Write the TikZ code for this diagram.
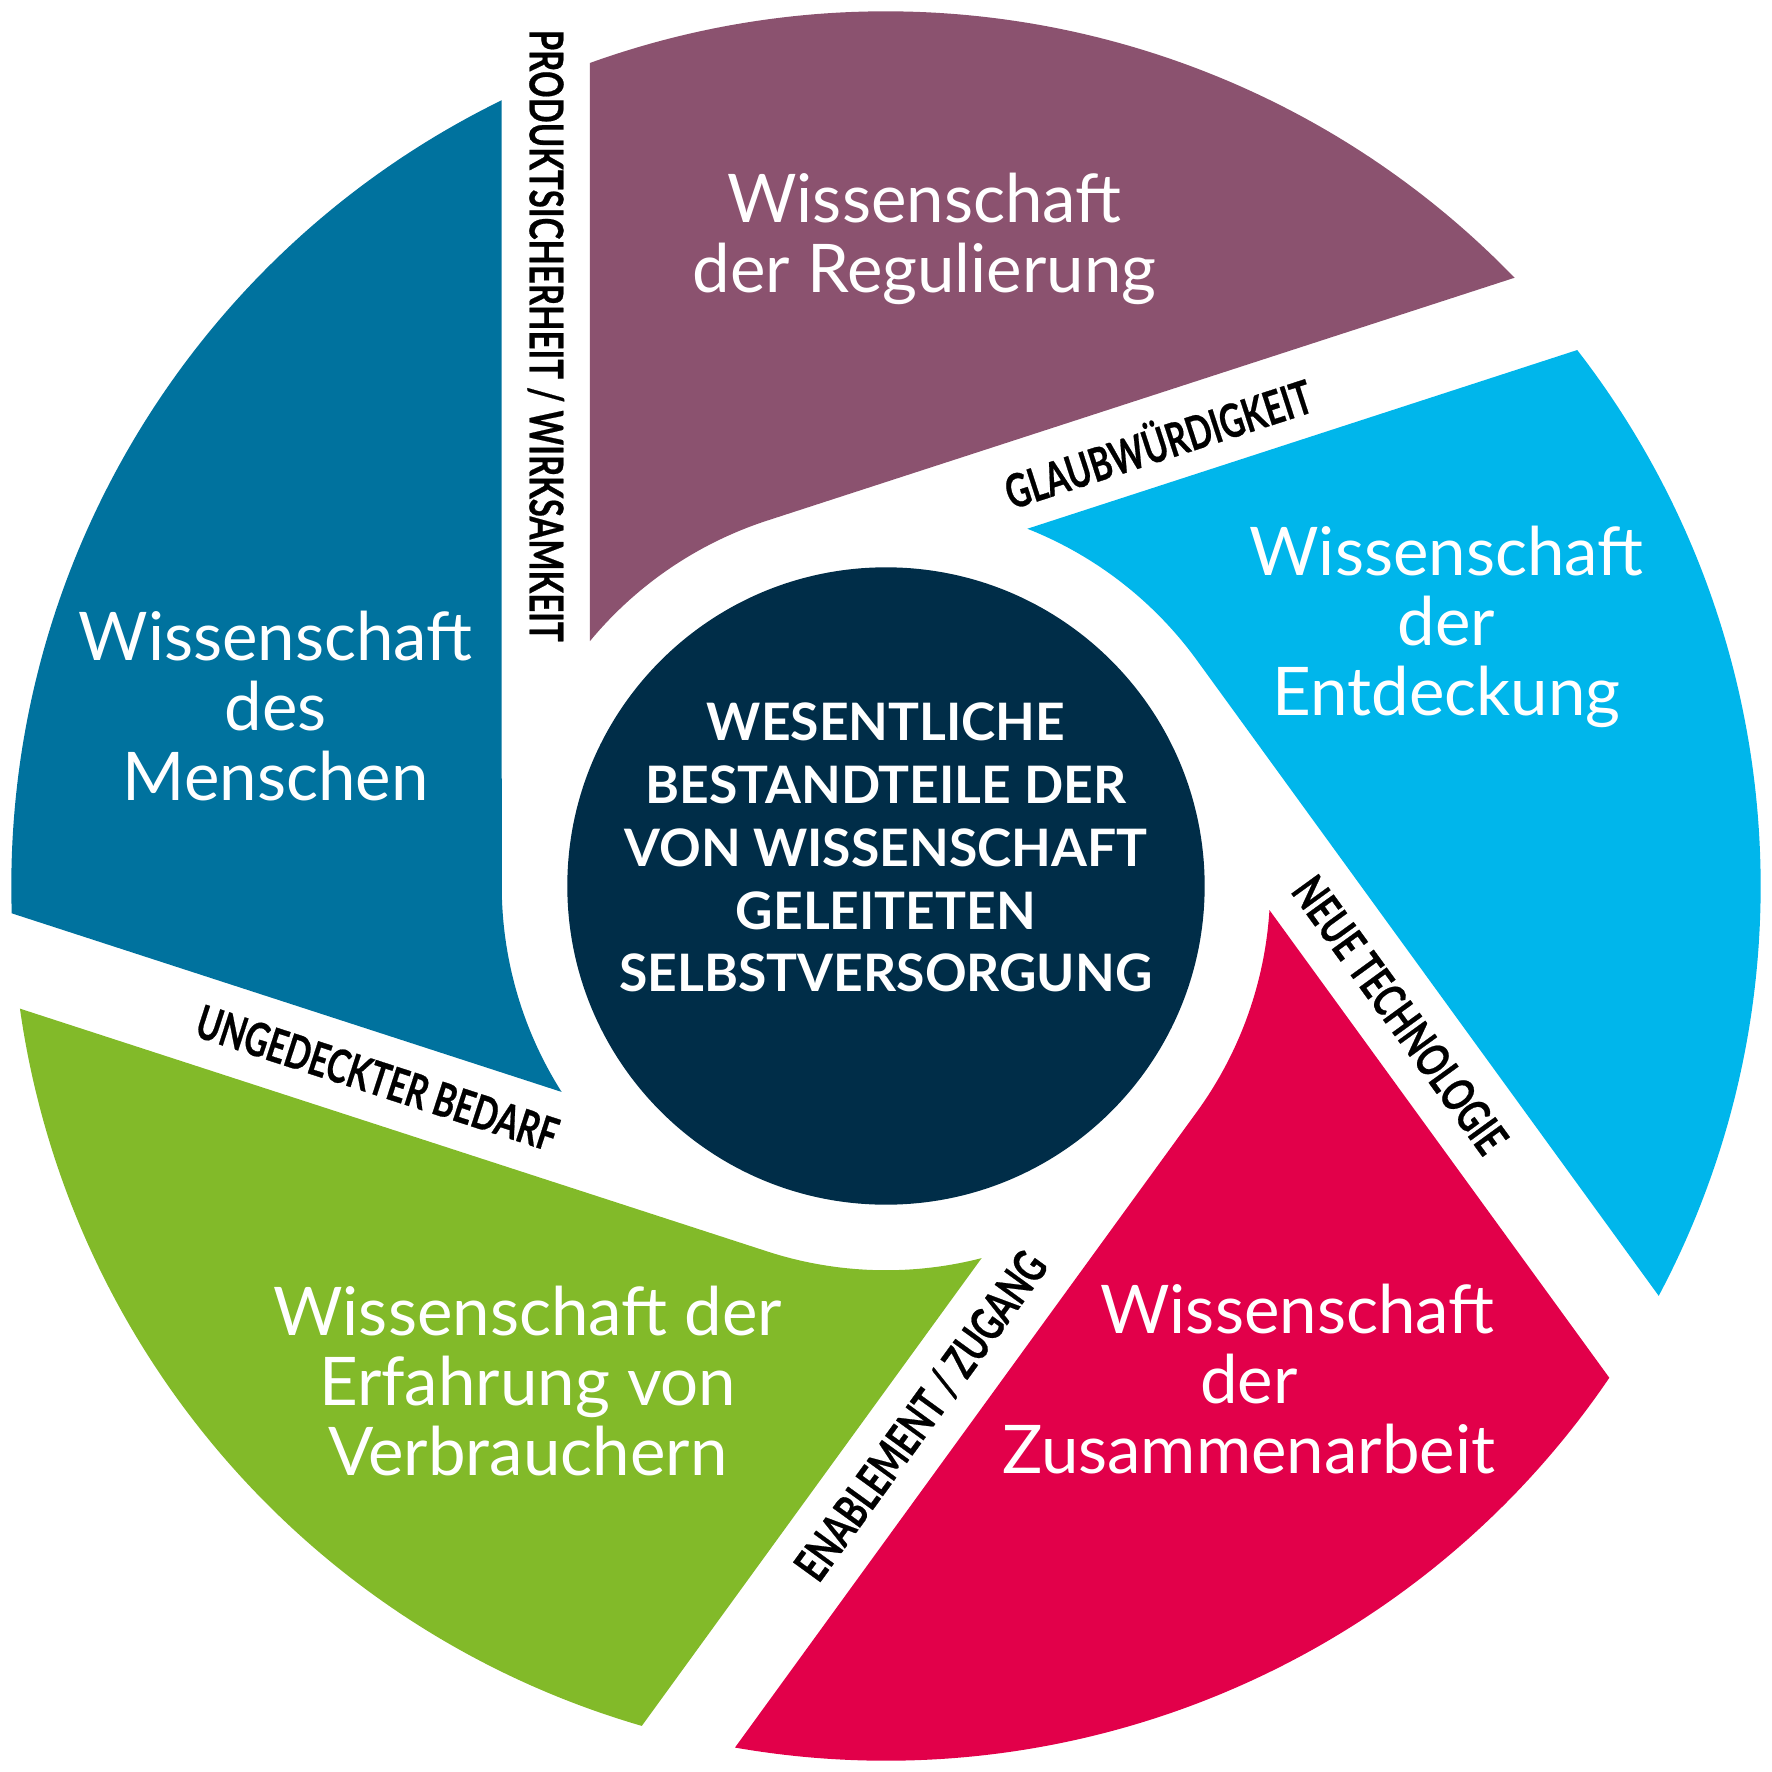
\documentclass[tikz,border=0pt]{standalone}
\usepackage{fontspec}
\setmainfont{Lato}
\newfontfamily\lblfont[FakeBold=0.6]{Lato}
\usepackage{tikz}
\usetikzlibrary{positioning}
\definecolor{regul}{RGB}{139,82,111}
\definecolor{entd}{RGB}{0,182,235}
\definecolor{zusam}{RGB}{226,0,74}
\definecolor{erfahr}{RGB}{130,186,41}
\definecolor{mensch}{RGB}{0,114,158}
\definecolor{kern}{RGB}{0,45,72}
\newcommand{\schmal}[1]{\scalebox{0.71}[1]{#1}}

\begin{document}
\begin{tikzpicture}[x=0.1mm, y=0.1mm,
  ttl/.style={text=white, align=center, inner sep=0pt, font=\fontsize{16.9}{17.6}\selectfont},
  lbl/.style={inner sep=0pt, font=\lblfont\bfseries\fontsize{11.7}{12}\selectfont}]
  \useasboundingbox (-784,-784) rectangle (784,784);
  % five blades, each turned by 72 degrees
  \foreach \col [count=\k from 0] in {regul,entd,zusam,erfahr,mensch}
    \fill[\col, rotate=-72*\k] (109.79:774) -- (140.41:340) arc[start angle=140.41, end angle=108, radius=340]
      -- (44.06:774) arc[start angle=44.06, end angle=109.79, radius=774] -- cycle;
  \node[circle, fill=kern, minimum size=5.64cm, inner sep=0pt] (kern) at (0,0) {};
  \node[text=white, align=center, inner sep=0pt, font=\bfseries\fontsize{13}{15.8}\selectfont] (kerntxt) at (0,34)
    {WESENTLICHE\\BESTANDTEILE DER\\VON WISSENSCHAFT\\GELEITETEN\\SELBSTVERSORGUNG};
  \node[ttl] (regultxt) at (34,573) {Wissenschaft\\der Regulierung};
  \node[ttl] (entdtxt) at (496,229) {Wissenschaft\\der\\Entdeckung};
  \node[ttl] (zusamtxt) at (321,-436) {\hspace*{1.45em}Wissenschaft\\der\\Zusammenarbeit};
  \node[ttl] (erfahrtxt) at (-317,-438) {Wissenschaft der\\Erfahrung von\\Verbrauchern};
  \node[ttl] (menschtxt) at (-540,159) {Wissenschaft\\des\\Menschen};
  % labels in the gaps
  \node[lbl, rotate=-90] (produkt) at (-301,487) {\schmal{PRODUKTSICHERHEIT / WIRKSAMKEIT}};
  \node[lbl, rotate=18] (glaub) at (240,394) {\schmal{GLAUBWÜRDIGKEIT}};
  \node[lbl, rotate=-54] (neu) at (455,-114) {\schmal{NEUE TECHNOLOGIE}};
  \node[lbl, rotate=54] (zugang) at (31,-469) {\schmal{ENABLEMENT / ZUGANG}};
  \node[lbl, rotate=-18] (bedarf) at (-450,-170) {\schmal{UNGEDECKTER BEDARF}};
\end{tikzpicture}
\end{document}
